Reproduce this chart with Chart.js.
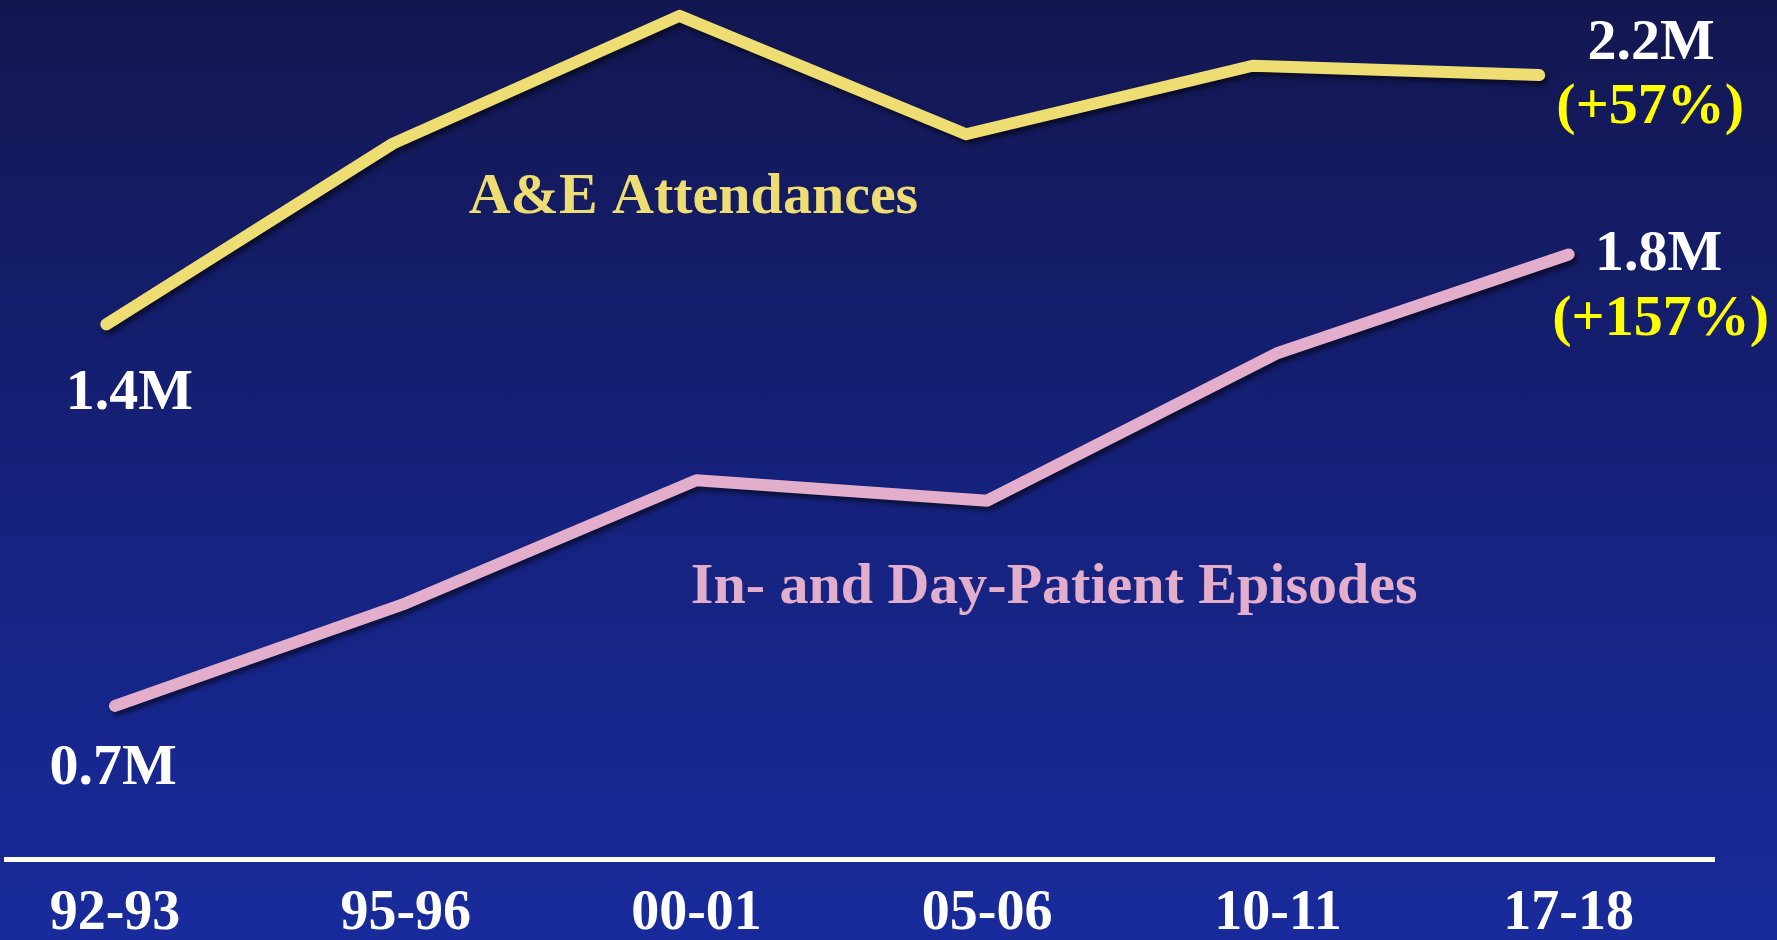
<!DOCTYPE html>
<html>
<head>
<meta charset="utf-8">
<script src="https://cdn.jsdelivr.net/npm/chart.js@4/dist/chart.umd.min.js"></script>
<style>
    html, body { margin: 0; padding: 0; }
    body {
        width: 1777px;
        height: 940px;
        overflow: hidden;
        background: linear-gradient(to bottom, #131750 0%, #15217a 50%, #192b9c 100%);
    }
    #wrap { position: relative; width: 1777px; height: 940px; }
</style>
</head>
<body>
<div id="wrap"><canvas id="activityChart"></canvas></div>
<script>
var periods = ["92-93", "95-96", "00-01", "05-06", "10-11", "17-18"];
// millions
var aeAttendances = [1.40, 1.98, 2.39, 2.01, 2.23, 2.20];
var patientEpisodes = [0.70, 0.95, 1.25, 1.20, 1.56, 1.80];

var serif = "'Liberation Serif', 'Times New Roman', serif";

function toPoints(arr) {
    return arr.map(function (v, i) { return { x: i, y: v }; });
}

// text labels, placed relative to a point of a dataset
var notes = [
    { ds: 0, pt: 0, dx: 23, dy: 85, text: "1.4M", color: "#ffffff" },
    { ds: 0, pt: 5, dx: 112, dy: -16, text: "2.2M", color: "#ffffff" },
    { ds: 0, pt: 5, dx: 111, dy: 48, text: "(+57%)", color: "#ffff00" },
    { ds: 0, pt: 2, dx: 14, dy: 197, text: "A&E Attendances", color: "#eedd72" },
    { ds: 1, pt: 0, dx: -2, dy: 78, text: "0.7M", color: "#ffffff" },
    { ds: 1, pt: 5, dx: 90, dy: 16, text: "1.8M", color: "#ffffff" },
    { ds: 1, pt: 5, dx: 92, dy: 81, text: "(+157%)", color: "#ffff00" },
    { ds: 1, pt: 3, dx: 67, dy: 102, text: "In- and Day-Patient Episodes", color: "#e3aecb" }
];

var lineShadow = {
    id: 'lineShadow',
    beforeDatasetsDraw: function (chart) {
        var ctx = chart.ctx;
        ctx.save();
        ctx.shadowColor = 'rgba(0,0,0,0.55)';
        ctx.shadowBlur = 5;
        ctx.shadowOffsetX = 3;
        ctx.shadowOffsetY = 4;
    },
    afterDatasetsDraw: function (chart) {
        chart.ctx.restore();
    }
};

var noteLabels = {
    id: 'noteLabels',
    afterDraw: function (chart) {
        var ctx = chart.ctx;
        ctx.save();
        ctx.font = "bold 58px " + serif;
        ctx.textAlign = 'center';
        ctx.textBaseline = 'alphabetic';
        notes.forEach(function (n) {
            var el = chart.getDatasetMeta(n.ds).data[n.pt];
            ctx.fillStyle = n.color;
            ctx.fillText(n.text, el.x + n.dx, el.y + n.dy);
        });
        ctx.restore();
    }
};

var ctx = document.getElementById("activityChart");

var aeData = {
    label: "A&E Attendances",
    data: toPoints(aeAttendances),
    xAxisID: 'xA',
    yAxisID: 'yA',
    borderColor: '#eedd72',
    borderWidth: 12,
    borderCapStyle: 'round',
    borderJoinStyle: 'round',
    pointRadius: 0,
    tension: 0,
    fill: false
};

var episodeData = {
    label: "In- and Day-Patient Episodes",
    data: toPoints(patientEpisodes),
    xAxisID: 'x',
    yAxisID: 'yP',
    borderColor: '#e3aecb',
    borderWidth: 12,
    borderCapStyle: 'round',
    borderJoinStyle: 'round',
    pointRadius: 0,
    tension: 0,
    fill: false
};

var chart = new Chart(ctx, {
    type: 'line',
    data: { datasets: [aeData, episodeData] },
    options: {
        responsive: true,
        maintainAspectRatio: false,
        animation: false,
        layout: { padding: { left: 6, right: 63, top: 0, bottom: 0 } },
        plugins: {
            legend: { display: false },
            tooltip: { enabled: false }
        },
        scales: {
            x: {
                type: 'linear',
                min: -0.375,
                max: 5.5,
                afterBuildTicks: function (scale) {
                    scale.ticks = periods.map(function (p, i) { return { value: i }; });
                },
                afterFit: function (scale) { scale.height = 81; },
                grid: { display: false, drawTicks: false },
                border: { display: true, color: '#ffffff', width: 5 },
                ticks: {
                    color: '#ffffff',
                    padding: 22,
                    maxRotation: 0,
                    autoSkip: false,
                    font: { family: serif, size: 56, weight: 'bold' },
                    callback: function (v) { return periods[v]; }
                }
            },
            xA: {
                type: 'linear',
                display: false,
                min: -0.35,
                max: 5.61
            },
            yP: {
                type: 'linear',
                display: false,
                min: 0.327,
                max: 2.42
            },
            yA: {
                type: 'linear',
                display: false,
                min: -0.316,
                max: 2.441
            }
        }
    },
    plugins: [lineShadow, noteLabels]
});
</script>
</body>
</html>
